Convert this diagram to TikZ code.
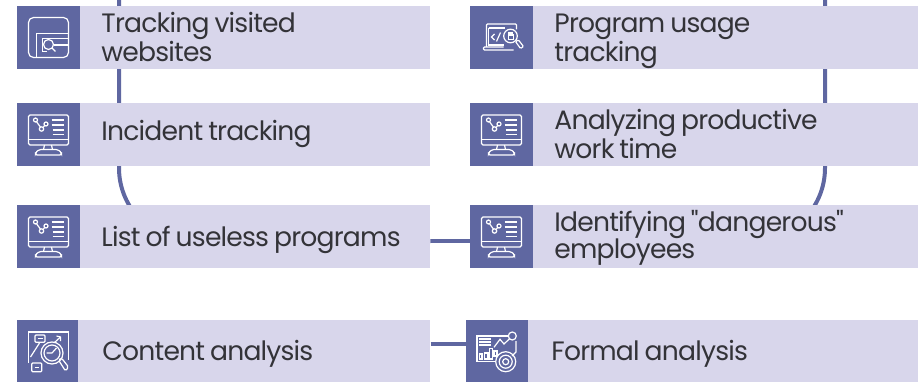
\documentclass[tikz,border=0pt]{standalone}
\usepackage{fontspec}
\newfontfamily\labelfont[LetterSpace=-3,WordSpace=0.8]{Poppins}
\usetikzlibrary{positioning,backgrounds}
\definecolor{barblue}{HTML}{5F67A1}
\definecolor{paleblue}{HTML}{D8D6EB}
\definecolor{textdark}{HTML}{333338}
\tikzset{
  iconbox/.style={fill=barblue, inner sep=0pt, minimum width=63pt, minimum height=63pt},
  labelbox/.style={fill=paleblue, text=textdark, inner xsep=21pt, inner ysep=0pt, minimum height=63pt, align=flush left, font=\labelfont\fontsize{26.6}{27}\selectfont},
  % first baseline below or above the box centre
  drop/.style={text depth=0pt, text height=2*#1},
  rise/.style={text height=0pt, text depth=2*#1},
  busline/.style={draw=barblue, line width=4pt},
  pics/monitoricon/.style={code={
    \draw[rounded corners=1.5pt] (-20,-19.5) rectangle (20,10.5);
    \draw (-20,5) -- (20,5);
    \draw (-4,10.5) -- (-5,15) (3,10.5) -- (4,15);
    \draw[rounded corners=1.5pt] (-13,20.5) -- (-13,18) -- (-9,15) -- (9,15) -- (13,18) -- (13,20.5) -- cycle;
    \draw (-13,-14.5) circle (2) (-7,-5.5) circle (2.2) (-2.5,-10.5) circle (2);
    \draw (-12,-12.8) -- (-8,-7.3) (-5.5,-7) -- (-3.8,-9);
    \draw (3,-14.5) -- (15,-14.5) (3,-9.5) -- (15,-9.5) (4,-4.5) -- (15,-4.5) (4,0) -- (15,0);
  }},
  pics/siteicon/.style={code={
    \draw[rounded corners=5pt] (-20,-20) rectangle (20,20);
    \draw (20,-4) -- (-12,-4) -- (-12,20);
    \draw (20,1) -- (-6,1) -- (-6,14) -- (-2,14);
    \draw (5,7.5) -- (20,7.5);
    \draw (0,7) circle (5);
    \draw (3.5,10.5) -- (7,14);
  }},
  pics/laptopicon/.style={code={
    \draw[rounded corners=1pt] (-15,9.5) -- (-15,-13.5) -- (15,-13.5) -- (15,-8);
    \draw (-13,-9.5) -- (3,-9.5) (-13,-9.5) -- (-13,7.5) -- (2,7.5);
    \draw[rounded corners=1pt] (2,9.5) -- (-18,9.5) -- (-18,12.5) -- (12,12.5);
    \draw (-7,-3.5) -- (-10,-0.5) -- (-7,2.5) (-1,-5) -- (-5,4);
    \draw (9,-1.5) circle (6.8);
    \draw (6.8,-2.5) rectangle (11.8,1.8);
    \draw (7.5,-2.5) -- (7.5,-4.5) -- (11,-4.5) -- (11,-2.5);
    \draw[rounded corners=1pt] (14,4) -- (17,2.5) -- (22,9) -- (19,11) -- cycle;
  }},
  pics/contenticon/.style={code={
    \draw (-19,12) -- (-19,-19) -- (21,-19) -- (21,9);
    \draw[rounded corners=1pt,fill=barblue] (-12.5,-16) rectangle (-2.5,-8.7);
    \draw (-10,-12.3) -- (-5,-12.3);
    \draw (-17,6) -- (-8,-8) (-2.5,-6) -- (1,-3) -- (13,-14);
    \draw (9,-15) -- (13,-14) -- (13,-10);
    \draw[fill=barblue] (4.5,2) circle (11);
    \draw (4.5,2) circle (8);
    \draw (4.5,2) -- (-1,2) (4.5,2) -- (9,-3);
    \draw[rounded corners=1.5pt] (11,9) -- (14,7) -- (21,16) -- (18,20) -- cycle;
    \draw[rounded corners=1pt,fill=barblue] (-15.8,12) rectangle (-5.8,20.7);
    \draw (-13,16.3) -- (-8.5,16.3);
  }},
  pics/formalicon/.style={code={
    \draw (11,-15) -- (-20,-15) -- (-20,10.7) -- (-1,10.7);
    \draw (19,-10) -- (19,1) -- (15,5);
    \draw (-18,-12) -- (-6,-12) (-18,-9) -- (-6,-9) (-18,-6) -- (-6,-6);
    \draw (-17.7,3) rectangle (-15,8) (-12.7,2) rectangle (-9,8) (-7.7,-2.5) rectangle (-4.3,8) (-3,0) rectangle (0,5);
    \draw (-3,-3.7) -- (3,-11.7) -- (7,-7) -- (13,-12.7);
    \draw (15.3,-15) circle (4);
    \draw (8.7,10.7) circle (10) (8.7,10.7) circle (6.5) (8.7,10.7) circle (3);
  }},
}
\begin{document}
\begin{tikzpicture}[x=1pt,y=-1pt]
    \useasboundingbox (0,0) rectangle (918,382);

    \node (websites_icon) [iconbox] at (48.5,37.5) {};
    \node (websites) [labelbox, rise=4.5pt, text width=308pt, right=0pt of websites_icon] {Tracking visited\\websites};
    \node (incident_icon) [iconbox] at (48.5,134.5) {};
    \node (incident) [labelbox, drop=6.5pt, text width=308pt, right=0pt of incident_icon] {Incident tracking};
    \node (useless_icon) [iconbox] at (48.5,236.5) {};
    \node (useless) [labelbox, drop=9.5pt, text width=308pt, right=0pt of useless_icon] {List of useless programs};
    \node (content_icon) [iconbox, minimum width=61pt] at (47.5,351) {};
    \node (content) [labelbox, drop=9pt, inner xsep=24pt, text width=304pt, right=0pt of content_icon] {Content analysis};

    \node (usage_icon) [iconbox] at (501.5,37.5) {};
    \node (usage) [labelbox, rise=4.5pt, text width=343pt, right=0pt of usage_icon] {Program usage\\tracking};
    \node (worktime_icon) [iconbox] at (501.5,134.5) {};
    \node (worktime) [labelbox, rise=4.5pt, text width=343pt, right=0pt of worktime_icon] {Analyzing productive\\work time};
    \node (dangerous_icon) [iconbox] at (501.5,236.5) {};
    \node (dangerous) [labelbox, rise=5pt, text width=343pt, right=0pt of dangerous_icon] {Identifying "dangerous"\\employees};
    \node (formal_icon) [iconbox, minimum width=62pt] at (497,351) {};
    \node (formal) [labelbox, drop=9pt, inner xsep=23pt, text width=344pt, right=0pt of formal_icon] {Formal analysis};

    \coordinate (bus_left) at (119,0);
    \coordinate (bus_right) at (825,0);

    \begin{scope}[on background layer]
        \draw[busline, rounded corners=73pt] (bus_left) |- ([yshift=-4.5pt]useless.east);
        \draw[busline, rounded corners=73pt] (bus_right) |- ([yshift=-4.5pt]dangerous_icon.west);
        \draw[busline] ([yshift=-4.5pt]useless.east) -- ([yshift=-4.5pt]dangerous_icon.west);
        \draw[busline] ([yshift=7pt]content.east) -- ([yshift=7pt]formal_icon.west);
    \end{scope}

    \begin{scope}[draw=white, line width=1.2pt]
        \pic at (websites_icon) {siteicon};
        \pic at (incident_icon) {monitoricon};
        \pic at (useless_icon) {monitoricon};
        \pic at (content_icon) {contenticon};
        \pic at (usage_icon) {laptopicon};
        \pic at (worktime_icon) {monitoricon};
        \pic at (dangerous_icon) {monitoricon};
        \pic at (formal_icon) {formalicon};
    \end{scope}
\end{tikzpicture}
\end{document}
